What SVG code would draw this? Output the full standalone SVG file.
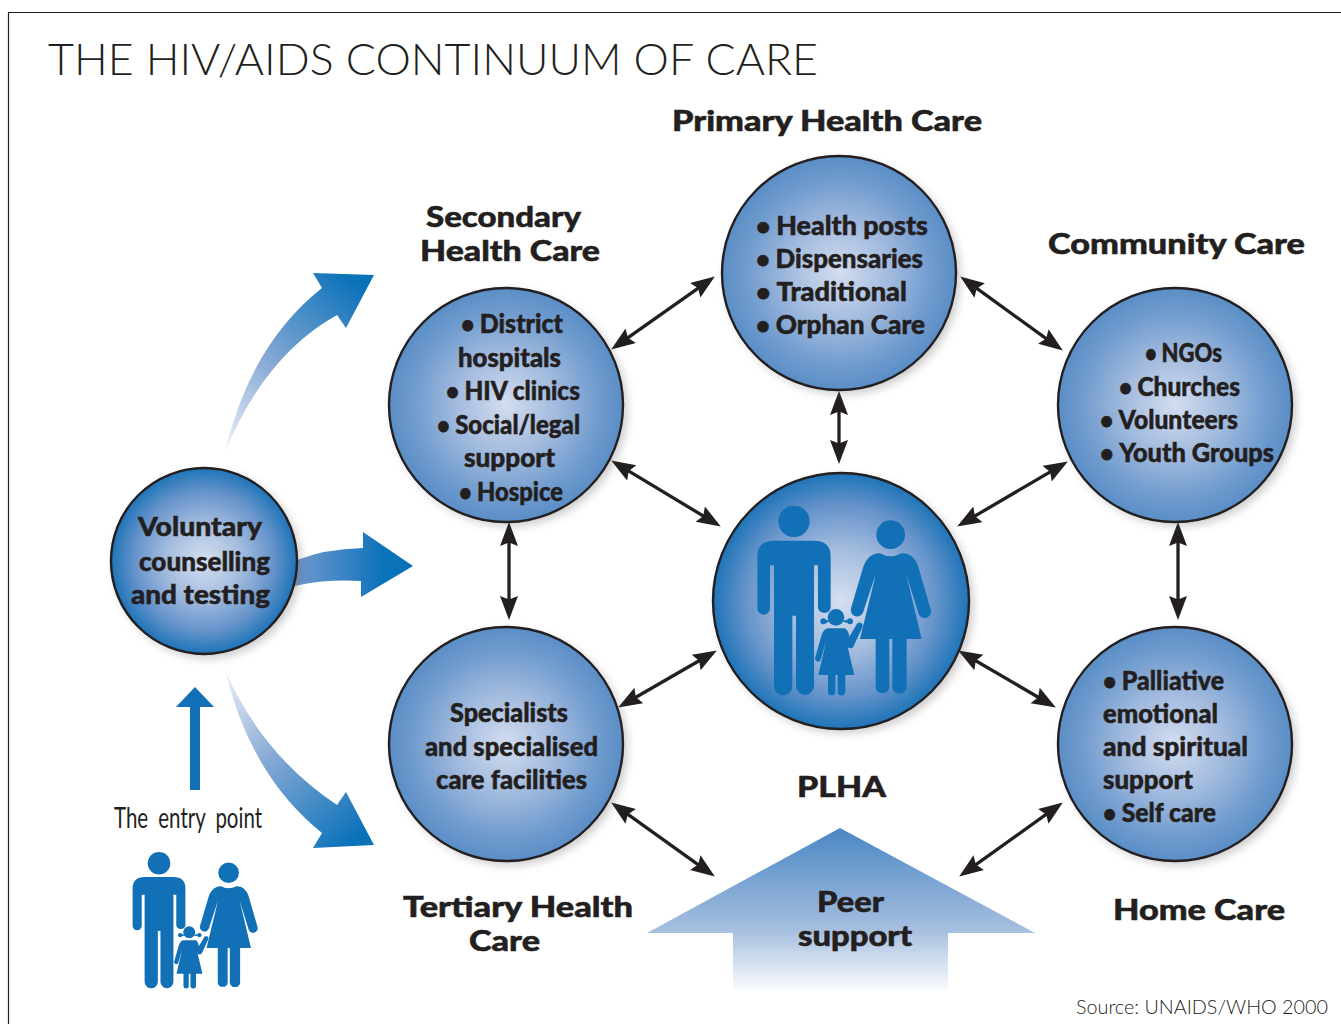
<svg xmlns="http://www.w3.org/2000/svg" xmlns:xlink="http://www.w3.org/1999/xlink" width="1341" height="1024" viewBox="0 0 1341 1024">
<style>
text{font-family:"Lato","Liberation Sans",sans-serif;fill:#231f20;font-weight:900}
.h{font-size:27.500px;stroke:#231f20;stroke-width:.5}
.c{font-size:26px;stroke:#231f20;stroke-width:.5}
.b{font-size:24px}
.l{font-weight:300}
.disc{stroke:#231f20;stroke-width:2.400}
.shade{fill:#555;opacity:.32}
.fig{fill:#1170b6}
.dbl{stroke:#231f20;stroke-width:3.300;fill:none;marker-start:url(#ah);marker-end:url(#ah)}
</style>
<defs>
<radialGradient id="ball"><stop offset="0" stop-color="#d6dff0"/><stop offset=".4" stop-color="#a5bddf"/><stop offset=".75" stop-color="#6593ca"/><stop offset="1" stop-color="#1e74b8"/></radialGradient>
<radialGradient id="soft"><stop offset="0" stop-color="#d3ddef"/><stop offset=".45" stop-color="#a0b9dd"/><stop offset=".8" stop-color="#6f9bce"/><stop offset="1" stop-color="#5a8ec6"/></radialGradient>
<linearGradient id="gUp" gradientUnits="userSpaceOnUse" x1="225" y1="452" x2="365" y2="290"><stop offset="0" stop-color="#edf2f9"/><stop offset=".45" stop-color="#87a9d5"/><stop offset="1" stop-color="#0a72b9"/></linearGradient>
<linearGradient id="gDown" gradientUnits="userSpaceOnUse" x1="225" y1="670" x2="365" y2="830"><stop offset="0" stop-color="#edf2f9"/><stop offset=".45" stop-color="#87a9d5"/><stop offset="1" stop-color="#0a72b9"/></linearGradient>
<linearGradient id="gMid" gradientUnits="userSpaceOnUse" x1="295" y1="0" x2="385" y2="0"><stop offset="0" stop-color="#7199cf"/><stop offset="1" stop-color="#0a72b9"/></linearGradient>
<linearGradient id="gPeer" gradientUnits="userSpaceOnUse" x1="0" y1="828" x2="0" y2="993"><stop offset="0" stop-color="#4a87c3"/><stop offset=".63" stop-color="#a8c0e0"/><stop offset="1" stop-color="#ffffff"/></linearGradient>
<filter id="sh" x="-20%" y="-20%" width="140%" height="140%"><feGaussianBlur stdDeviation="5"/></filter>
<marker id="ah" markerUnits="userSpaceOnUse" markerWidth="28" markerHeight="20" refX="15" refY="9" orient="auto-start-reverse"><path d="M24 9L0 0L3.500 9L0 18Z" fill="#231f20"/></marker>
<g id="family" class="fig">
<circle cx="282" cy="184" r="47"/>
<path d="M172 290Q172 242 222 242L342 242Q392 242 392 290L392 445A20 20 0 0 1 354 445L354 316L342 316L342 678A27 27 0 0 1 288 678L288 467L277 467L277 678A27.500 27.500 0 0 1 222 678L222 316L210 316L210 445A19 19 0 0 1 172 445Z"/>
<circle cx="572" cy="224" r="43"/>
<path d="M540 280Q572 298 604 280Q640 278 655 320L692 448A19 19 0 0 1 656 462L618 340L665 537L620 537L620 683A22 22 0 0 1 577 683L577 537L568 537L568 683A21 21 0 0 1 527 683L527 537L480 537L528 340L490 455A19 19 0 0 1 453 445L490 320Q505 280 540 280Z"/>
<circle cx="408" cy="472" r="25"/>
<circle cx="370" cy="484" r="9"/><circle cx="450" cy="484" r="9"/>
<path d="M378 479L392 484L378 489ZM425 484L441 479L441 489Z"/>
<path d="M385 505L435 505Q445 510 448 530L472 490A10 10 0 0 1 488 500L460 560A10 10 0 0 1 443 560L463 645L436 645L436 695A11 11 0 0 1 413 695L413 645L406 645L406 695A11 11 0 0 1 384 695L384 645L355 645L378 545L362 600A9 9 0 0 1 345 595L365 525Q372 505 385 505Z"/>
</g>
</defs>
<rect width="1341" height="1024" fill="#fff"/>
<path d="M1341 12.500H8.500V1024" fill="none" stroke="#231f20" stroke-width="1.200"/>
<text class="l" x="48" y="75" font-size="44" textLength="770" lengthAdjust="spacingAndGlyphs">THE HIV/AIDS CONTINUUM OF CARE</text>
<text class="l" x="1076" y="1014" font-size="20" textLength="252" lengthAdjust="spacingAndGlyphs">Source: UNAIDS/WHO 2000</text>

<g id="arrows-from-testing">
<path d="M225 452Q250 345 322 288L313 273L374 275L346 328L337 315Q265 355 225 452Z" fill="url(#gUp)"/>
<path d="M297 560Q325 549 363 548L363 532L413 566L361 597L361 581Q325 579 295 586Z" fill="url(#gMid)"/>
<path d="M225 670Q262 755 337 805L346 792L374 845L313 848L322 833Q250 775 225 670Z" fill="url(#gDown)"/>
</g>

<g id="connectors">
<path class="dbl" d="M618.500 344.400L707.500 281.600"/>
<path class="dbl" d="M967.500 281.700L1055.500 345.300"/>
<path class="dbl" d="M839 400L839 455"/>
<path class="dbl" d="M618.900 465.100L713.100 521.900"/>
<path class="dbl" d="M1060.100 466.100L964.900 521.900"/>
<path class="dbl" d="M509 531L509 611"/>
<path class="dbl" d="M1178 531L1178 611"/>
<path class="dbl" d="M625.900 703L709.100 655"/>
<path class="dbl" d="M1048.100 703L965.900 655"/>
<path class="dbl" d="M618.500 807.700L707.500 871.300"/>
<path class="dbl" d="M1055.500 807.700L966.500 871.300"/>
</g>

<g id="primary">
<circle class="shade" cx="843" cy="277" r="117" filter="url(#sh)"/>
<circle class="disc" cx="839" cy="273" r="117" fill="url(#soft)"/>
<text class="c" x="756" y="235" textLength="172" lengthAdjust="spacingAndGlyphs"><tspan class="b">•  </tspan>Health posts</text>
<text class="c" x="756" y="268" textLength="167" lengthAdjust="spacingAndGlyphs"><tspan class="b">•  </tspan>Dispensaries</text>
<text class="c" x="756" y="301" textLength="151" lengthAdjust="spacingAndGlyphs"><tspan class="b">•  </tspan>Traditional</text>
<text class="c" x="756" y="334" textLength="169" lengthAdjust="spacingAndGlyphs"><tspan class="b">•  </tspan>Orphan Care</text>
<text class="h" x="672" y="131" textLength="310" lengthAdjust="spacingAndGlyphs">Primary Health Care</text>
</g>

<g id="secondary">
<circle class="shade" cx="510" cy="409" r="117" filter="url(#sh)"/>
<circle class="disc" cx="506" cy="405" r="117" fill="url(#soft)"/>
<text class="c" x="461" y="333" textLength="102" lengthAdjust="spacingAndGlyphs"><tspan class="b">•  </tspan>District</text>
<text class="c" x="458" y="367" textLength="103" lengthAdjust="spacingAndGlyphs">hospitals</text>
<text class="c" x="446" y="400" textLength="134" lengthAdjust="spacingAndGlyphs"><tspan class="b">•  </tspan>HIV clinics</text>
<text class="c" x="437" y="434" textLength="143" lengthAdjust="spacingAndGlyphs"><tspan class="b">•  </tspan>Social/legal</text>
<text class="c" x="464" y="467" textLength="91" lengthAdjust="spacingAndGlyphs">support</text>
<text class="c" x="459" y="501" textLength="104" lengthAdjust="spacingAndGlyphs"><tspan class="b">•  </tspan>Hospice</text>
<text class="h" x="426" y="227" textLength="155" lengthAdjust="spacingAndGlyphs">Secondary</text>
<text class="h" x="420" y="261" textLength="180" lengthAdjust="spacingAndGlyphs">Health Care</text>
</g>

<g id="community">
<circle class="shade" cx="1179" cy="409" r="117" filter="url(#sh)"/>
<circle class="disc" cx="1175" cy="405" r="117" fill="url(#soft)"/>
<text class="c" x="1145" y="362" textLength="77" lengthAdjust="spacingAndGlyphs"><tspan class="b">•  </tspan>NGOs</text>
<text class="c" x="1119" y="396" textLength="121" lengthAdjust="spacingAndGlyphs"><tspan class="b">•  </tspan>Churches</text>
<text class="c" x="1100" y="429" textLength="138" lengthAdjust="spacingAndGlyphs"><tspan class="b">•  </tspan>Volunteers</text>
<text class="c" x="1100" y="462" textLength="174" lengthAdjust="spacingAndGlyphs"><tspan class="b">•  </tspan>Youth Groups</text>
<text class="h" x="1048" y="254" textLength="257" lengthAdjust="spacingAndGlyphs">Community Care</text>
</g>

<g id="tertiary">
<circle class="shade" cx="510" cy="748" r="117" filter="url(#sh)"/>
<circle class="disc" cx="506" cy="744" r="117" fill="url(#soft)"/>
<text class="c" x="450" y="722" textLength="118" lengthAdjust="spacingAndGlyphs">Specialists</text>
<text class="c" x="425" y="756" textLength="173" lengthAdjust="spacingAndGlyphs">and specialised</text>
<text class="c" x="436" y="789" textLength="151" lengthAdjust="spacingAndGlyphs">care facilities</text>
<text class="h" x="403" y="917" textLength="230" lengthAdjust="spacingAndGlyphs">Tertiary Health</text>
<text class="h" x="469" y="951" textLength="71" lengthAdjust="spacingAndGlyphs">Care</text>
</g>

<g id="home">
<circle class="shade" cx="1179" cy="748" r="117" filter="url(#sh)"/>
<circle class="disc" cx="1175" cy="744" r="117" fill="url(#soft)"/>
<text class="c" x="1103" y="690" textLength="121" lengthAdjust="spacingAndGlyphs"><tspan class="b">•  </tspan>Palliative</text>
<text class="c" x="1103" y="723" textLength="115" lengthAdjust="spacingAndGlyphs">emotional</text>
<text class="c" x="1103" y="756" textLength="145" lengthAdjust="spacingAndGlyphs">and spiritual</text>
<text class="c" x="1103" y="789" textLength="90" lengthAdjust="spacingAndGlyphs">support</text>
<text class="c" x="1103" y="822" textLength="113" lengthAdjust="spacingAndGlyphs"><tspan class="b">•  </tspan>Self care</text>
<text class="h" x="1113" y="920" textLength="172" lengthAdjust="spacingAndGlyphs">Home Care</text>
</g>

<g id="plha">
<circle class="shade" cx="845" cy="605" r="128" filter="url(#sh)"/>
<circle class="disc" cx="841" cy="601" r="128" fill="url(#ball)"/>
<use xlink:href="#family" href="#family" transform="translate(700 460) scale(.3333)"/>
<text class="h" x="797" y="797" textLength="89" lengthAdjust="spacingAndGlyphs">PLHA</text>
</g>

<g id="testing">
<circle class="shade" cx="208" cy="565" r="93" filter="url(#sh)"/>
<circle class="disc" cx="204" cy="561" r="93" fill="url(#ball)"/>
<text class="c" x="138" y="536" textLength="124" lengthAdjust="spacingAndGlyphs">Voluntary</text>
<text class="c" x="139" y="571" textLength="131" lengthAdjust="spacingAndGlyphs">counselling</text>
<text class="c" x="131" y="604" textLength="139" lengthAdjust="spacingAndGlyphs">and testing</text>
</g>

<g id="entry">
<path class="fig" d="M190 790V707H176L195 687L214 707H200V790Z"/>
<text x="114" y="828" font-size="29" style="font-weight:400;word-spacing:7px" textLength="148" lengthAdjust="spacingAndGlyphs">The entry point</text>
<use xlink:href="#family" href="#family" transform="translate(91.330 819) scale(.24)"/>
</g>

<g id="peer">
<path d="M840 828L1035 933H948V993H733V933H647Z" fill="url(#gPeer)"/>
<text class="h" x="817" y="912" textLength="67" lengthAdjust="spacingAndGlyphs">Peer</text>
<text class="h" x="798" y="946" textLength="114" lengthAdjust="spacingAndGlyphs">support</text>
</g>
</svg>
